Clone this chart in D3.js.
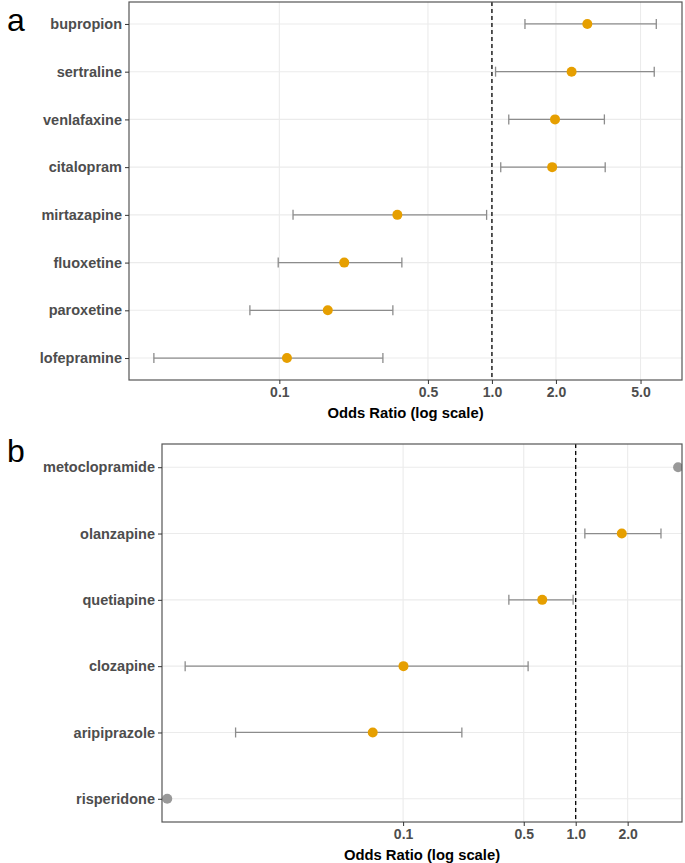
<!DOCTYPE html>
<html>
<head>
<meta charset="utf-8">
<script src="https://cdn.jsdelivr.net/npm/d3@7"></script>
<style>
  html, body { margin: 0; padding: 0; background: #fff; }
  svg { display: block; }
  text { font-family: "Liberation Sans", Arial, sans-serif; }
</style>
</head>
<body>
<svg id="chart" width="685" height="863"></svg>
<script>
// ---------- DATA ----------
// Panel a: antidepressants
const adDrugs = ["bupropion", "sertraline", "venlafaxine", "citalopram", "mirtazapine", "fluoxetine", "paroxetine", "lofepramine"];
const adOR    = [2.81, 2.37, 1.98, 1.92, 0.359, 0.202, 0.169, 0.1086];
const adLower = [1.43, 1.04, 1.20, 1.10, 0.116, 0.0988, 0.0727, 0.0257];
const adUpper = [5.93, 5.80, 3.38, 3.41, 0.944, 0.377, 0.342, 0.307];

// Panel b: antipsychotics (no CI available for the grey points)
const apDrugs = ["metoclopramide", "olanzapine", "quetiapine", "clozapine", "aripiprazole", "risperidone"];
const apOR    = [3.92, 1.85, 0.64, 0.1005, 0.0667, 0.0043];
const apLower = [null, 1.13, 0.41, 0.00546, 0.0107, null];
const apUpper = [null, 3.12, 0.966, 0.53, 0.219, null];

// Axis ticks
const adTicks = [0.1, 0.5, 1, 2, 5];
const adTickLabels = ["0.1", "0.5", "1.0", "2.0", "5.0"];
const apTicks = [0.1, 0.5, 1, 2];
const apTickLabels = ["0.1", "0.5", "1.0", "2.0"];

const xTitle = "Odds Ratio (log scale)";
const refLine = 1;

// ---------- DRAW ----------
const svg = d3.select("#chart");
const colSig = "#E69F00", colNA = "#999999", colBar = "#8c8c8c";

function panel(cfg) {
  const { drugs, or, lo, hi, ticks, tickLabels, domain, box, pad, letter, letterY, id } = cfg;
  const g = svg.append("g");
  const x = d3.scaleLog().domain(domain).range([box.left, box.right]);
  const y = d3.scalePoint().domain(drugs).range([box.top, box.bottom]).padding(pad);

  g.append("defs").append("clipPath").attr("id", id)
    .append("rect").attr("x", box.left).attr("y", box.top)
    .attr("width", box.right - box.left).attr("height", box.bottom - box.top);

  // grid
  g.append("g").selectAll("line").data(ticks).join("line")
    .attr("x1", d => x(d)).attr("x2", d => x(d))
    .attr("y1", box.top).attr("y2", box.bottom)
    .attr("stroke", "#ebebeb").attr("stroke-width", 1.1);
  g.append("g").selectAll("line").data(drugs).join("line")
    .attr("x1", box.left).attr("x2", box.right)
    .attr("y1", d => y(d)).attr("y2", d => y(d))
    .attr("stroke", "#ebebeb").attr("stroke-width", 1.1);

  // reference line
  g.append("line")
    .attr("x1", x(refLine)).attr("x2", x(refLine))
    .attr("y1", box.top).attr("y2", box.bottom)
    .attr("stroke", "#000").attr("stroke-width", 1.3)
    .attr("stroke-dasharray", "4,3");

  const rows = drugs.map((d, i) => ({ d, or: or[i], lo: lo[i], hi: hi[i] }));
  const plot = g.append("g").attr("clip-path", `url(#${id})`);
  const withCI = rows.filter(r => r.lo != null);
  const eb = plot.append("g").selectAll("g").data(withCI).join("g")
    .attr("stroke", colBar).attr("stroke-width", 1.3);
  eb.append("line").attr("x1", r => x(r.lo)).attr("x2", r => x(r.hi))
    .attr("y1", r => y(r.d)).attr("y2", r => y(r.d));
  eb.append("line").attr("x1", r => x(r.lo)).attr("x2", r => x(r.lo))
    .attr("y1", r => y(r.d) - 5).attr("y2", r => y(r.d) + 5);
  eb.append("line").attr("x1", r => x(r.hi)).attr("x2", r => x(r.hi))
    .attr("y1", r => y(r.d) - 5).attr("y2", r => y(r.d) + 5);

  plot.append("g").selectAll("circle").data(rows).join("circle")
    .attr("cx", r => x(r.or)).attr("cy", r => y(r.d)).attr("r", 5)
    .attr("fill", r => r.lo != null ? colSig : colNA);

  // border
  g.append("rect").attr("x", box.left).attr("y", box.top)
    .attr("width", box.right - box.left).attr("height", box.bottom - box.top)
    .attr("fill", "none").attr("stroke", "#555").attr("stroke-width", 1.2);

  // y axis
  const ya = g.append("g").attr("transform", `translate(${box.left},0)`)
    .call(d3.axisLeft(y).tickSize(4).tickPadding(3));
  ya.select(".domain").remove();
  ya.selectAll(".tick line").attr("stroke", "#333");
  ya.selectAll(".tick text").attr("fill", "#4d4d4d")
    .style("font-size", "14.5px").style("font-weight", "bold")
    .style("font-family", '"Liberation Sans", Arial, sans-serif');

  // x axis
  const xa = g.append("g").attr("transform", `translate(0,${box.bottom})`)
    .call(d3.axisBottom(x).tickValues(ticks).tickFormat((d, i) => tickLabels[i]).tickSize(4).tickPadding(3));
  xa.select(".domain").remove();
  xa.selectAll(".tick line").attr("stroke", "#333");
  xa.selectAll(".tick text").attr("fill", "#4d4d4d")
    .style("font-size", "14px").style("font-weight", "bold")
    .style("font-family", '"Liberation Sans", Arial, sans-serif');

  g.append("text").attr("x", (box.left + box.right) / 2).attr("y", box.bottom + 38)
    .attr("text-anchor", "middle").attr("fill", "#000")
    .style("font-size", "14.8px").style("font-weight", "bold")
    .text(xTitle);

  g.append("text").attr("x", 7).attr("y", letterY)
    .attr("fill", "#000").style("font-size", "32px").text(letter);
}

panel({
  id: "clipA", drugs: adDrugs, or: adOR, lo: adLower, hi: adUpper,
  ticks: adTicks, tickLabels: adTickLabels,
  domain: [0.01963, 7.834],
  box: { left: 129, right: 682, top: 2, bottom: 380 }, pad: 0.46,
  letter: "a", letterY: 31
});
panel({
  id: "clipB", drugs: apDrugs, or: apOR, lo: apLower, hi: apUpper,
  ticks: apTicks, tickLabels: apTickLabels,
  domain: [0.004009, 4.13],
  box: { left: 162, right: 682, top: 444, bottom: 822 }, pad: 0.35,
  letter: "b", letterY: 462
});
</script>
</body>
</html>
